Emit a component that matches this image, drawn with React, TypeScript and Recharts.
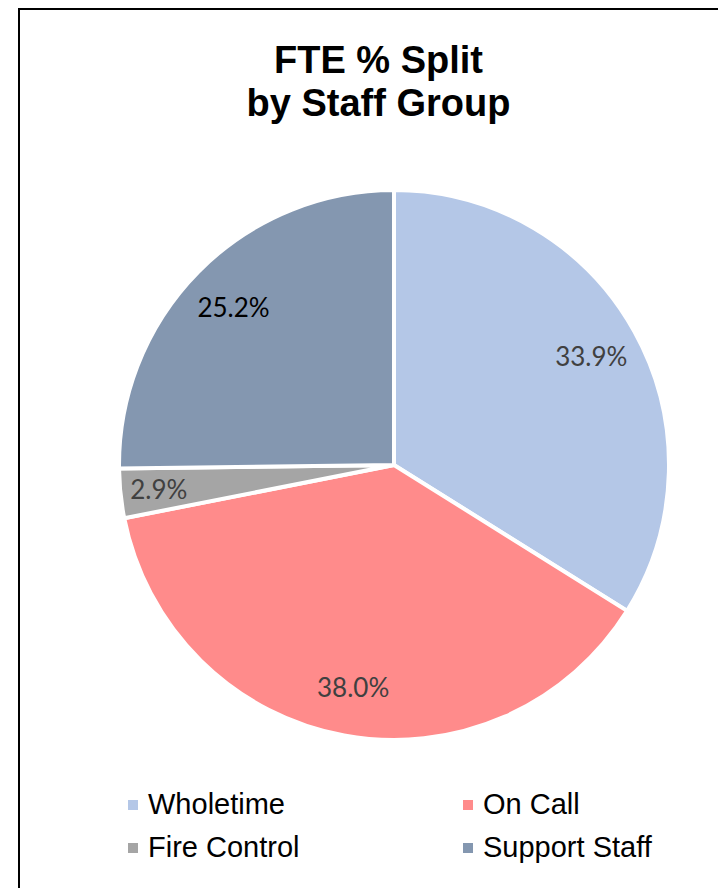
import type { ReactElement } from "react";
import { Cell, Legend, Pie, PieChart } from "recharts";

// Staff groups, clockwise from 12 o'clock
const groups = ["Wholetime", "On Call", "Fire Control", "Support Staff"];
const ftePercent = [33.9, 38.0, 2.9, 25.2];

const COLORS = ["#B4C7E7", "#FF8B8B", "#A5A5A5", "#8497B0"];
const LABEL_COLORS = ["#404040", "#404040", "#404040", "#000000"];
const RAD = Math.PI / 180;

const data = groups.map((name, i) => ({ name, value: ftePercent[i] }));

function SliceLabel(props: any): ReactElement {
  const { cx, cy, midAngle, outerRadius, index, value } = props;
  // thin slices get pushed a little further out, like Excel's best fit
  const r = outerRadius * (value < 5 ? 0.86 : 0.82);
  const x = cx + r * Math.cos(-midAngle * RAD);
  const y = cy + r * Math.sin(-midAngle * RAD);
  return (
    <text
      x={x}
      y={y}
      textAnchor="middle"
      dominantBaseline="central"
      fill={LABEL_COLORS[index]}
      style={{ fontFamily: "Lato, 'Open Sans', sans-serif", fontSize: 26 }}
    >
      {`${Number(value).toFixed(1)}%`}
    </text>
  );
}

function LegendGrid({ payload }: { payload?: Array<{ value?: string; color?: string }> }): ReactElement {
  // keep the series order rather than recharts' alphabetical sort
  const items = [...(payload ?? [])].sort(
    (a, b) => groups.indexOf(a.value ?? "") - groups.indexOf(b.value ?? ""),
  );
  return (
    <div
      style={{
        display: "grid",
        gridTemplateColumns: "335px 260px",
        gridAutoRows: "43px",
        paddingLeft: 128,
        fontFamily: "'Liberation Sans', Arial, sans-serif",
        fontSize: 29,
        color: "#000",
      }}
    >
      {items.map((p) => (
        <div key={p.value} style={{ display: "flex", alignItems: "center", whiteSpace: "nowrap" }}>
          <span style={{ width: 10, height: 10, background: p.color, marginRight: 10, display: "inline-block" }} />
          <span>{p.value}</span>
        </div>
      ))}
    </div>
  );
}

export default function App(): ReactElement {
  return (
    <div style={{ position: "absolute", left: 0, top: 0, width: 718, height: 888, overflow: "hidden", background: "#fff" }}>
      <div
        style={{
          position: "absolute",
          left: 18,
          top: 8,
          width: 760,
          height: 920,
          border: "2px solid #000",
          boxSizing: "border-box",
        }}
      />
      <div
        style={{
          position: "absolute",
          left: 18,
          top: 39,
          width: 721,
          textAlign: "center",
          fontFamily: "'Liberation Sans', Arial, sans-serif",
          fontWeight: "bold",
          fontSize: 38,
          lineHeight: "43px",
          color: "#000",
        }}
      >
        FTE % Split
        <br />
        by Staff Group
      </div>
      <div style={{ position: "absolute", left: 0, top: 0 }}>
        <PieChart width={740} height={888} margin={{ top: 0, right: 0, bottom: 0, left: 0 }}>
          <Pie
            data={data}
            dataKey="value"
            nameKey="name"
            cx={394}
            cy={465}
            outerRadius={275}
            startAngle={90}
            endAngle={-270}
            stroke="#fff"
            strokeWidth={4}
            label={SliceLabel}
            labelLine={false}
            isAnimationActive={false}
          >
            {data.map((d, i) => (
              <Cell key={d.name} fill={COLORS[i]} />
            ))}
          </Pie>
          <Legend
            content={<LegendGrid />}
            wrapperStyle={{ position: "absolute", left: 0, top: 783, width: 740, bottom: "auto" }}
          />
        </PieChart>
      </div>
    </div>
  );
}
